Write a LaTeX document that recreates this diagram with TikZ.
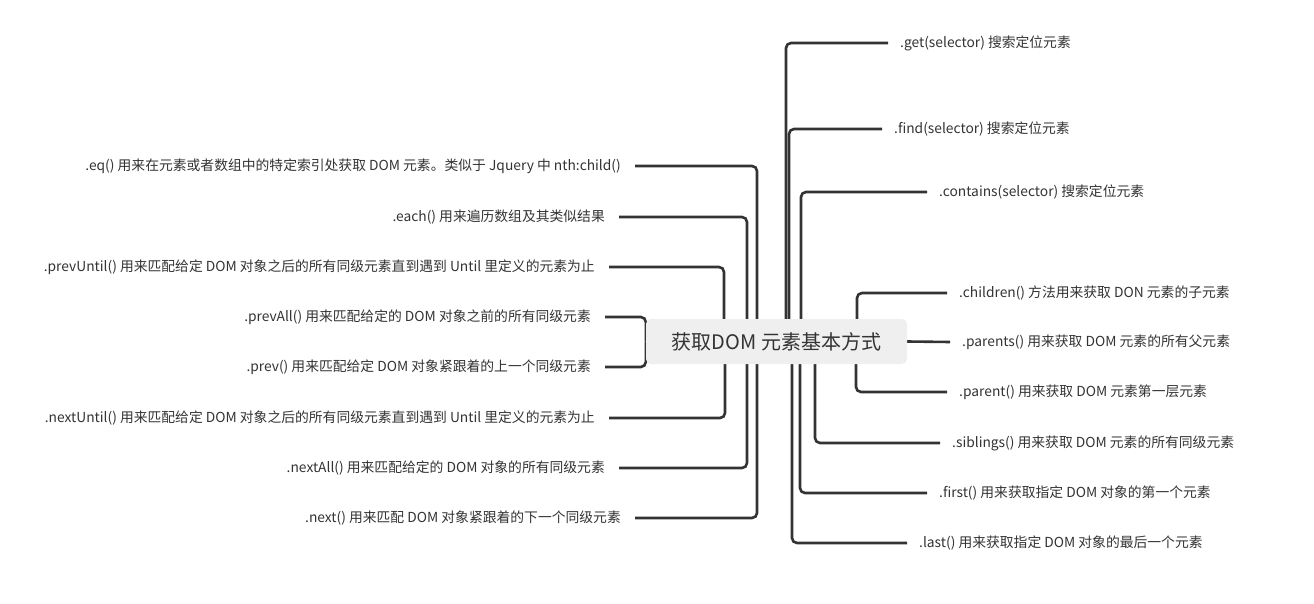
\documentclass[tikz,border=0pt]{standalone}
\usepackage{fontspec}
\setmainfont{Noto Sans CJK SC}
\usetikzlibrary{backgrounds}
\definecolor{ink}{HTML}{333333}
\definecolor{hubfill}{HTML}{EFEFEF}
\tikzset{
  conn/.style={draw=ink, line width=2.6pt, rounded corners=5pt},
  lft/.style={anchor=east, inner xsep=14pt, inner ysep=0pt, text=ink, font=\fontsize{13.8}{16}\selectfont},
  rgt/.style={anchor=west, inner xsep=12pt, inner ysep=0pt, text=ink, font=\fontsize{13.8}{16}\selectfont},
  hubnode/.style={fill=hubfill, rounded corners=5pt, minimum width=261pt, minimum height=45pt, inner sep=0pt, text=ink, font=\fontsize{20}{22}\selectfont}
}
\begin{document}
\begin{tikzpicture}[x=1pt,y=-1pt]
\useasboundingbox (0,0) rectangle (1314,604);
\node[hubnode] (hub) at (776.5,341.5) {获取DOM 元素基本方式};
% left
\node[lft] (eq) at (635,166) {.eq() 用来在元素或者数组中的特定索引处获取 DOM 元素。类似于 Jquery 中 nth:child()};
\node[lft] (each) at (619,217) {.each() 用来遍历数组及其类似结果};
\node[lft] (prevUntil) at (609,267) {.prevUntil() 用来匹配给定 DOM 对象之后的所有同级元素直到遇到 Until 里定义的元素为止};
\node[lft] (prevAll) at (605,317) {.prevAll() 用来匹配给定的 DOM 对象之前的所有同级元素};
\node[lft] (prev) at (605,367) {.prev() 用来匹配给定 DOM 对象紧跟着的上一个同级元素};
\node[lft] (nextUntil) at (609,418) {.nextUntil() 用来匹配给定 DOM 对象之后的所有同级元素直到遇到 Until 里定义的元素为止};
\node[lft] (nextAll) at (619,468) {.nextAll() 用来匹配给定的 DOM 对象的所有同级元素};
\node[lft] (next) at (635,518) {.next() 用来匹配 DOM 对象紧跟着的下一个同级元素};
% right
\node[rgt] (get) at (888,43) {.get(selector) 搜索定位元素};
\node[rgt] (find) at (882,129) {.find(selector) 搜索定位元素};
\node[rgt] (contains) at (927,192) {.contains(selector) 搜索定位元素};
\node[rgt] (children) at (947,293) {.children() 方法用来获取 DON 元素的子元素};
\node[rgt] (parents) at (950,342) {.parents() 用来获取 DOM 元素的所有父元素};
\node[rgt] (parent) at (947,392) {.parent() 用来获取 DOM 元素第一层元素};
\node[rgt] (siblings) at (940,443) {.siblings() 用来获取 DOM 元素的所有同级元素};
\node[rgt] (first) at (927,493) {.first() 用来获取指定 DOM 对象的第一个元素};
\node[rgt] (last) at (907,543) {.last() 用来获取指定 DOM 对象的最后一个元素};
\begin{scope}[on background layer]
\draw[conn] ([xshift=-19.5pt]hub.center) |- (eq.east);
\draw[conn] ([xshift=-29.5pt]hub.center) |- (each.east);
\draw[conn] ([xshift=-52.5pt]hub.center) |- (prevUntil.east);
\draw[conn] (hub.west) |- (prevAll.east);
\draw[conn] (hub.west) |- (prev.east);
\draw[conn] ([xshift=-51.5pt]hub.center) |- (nextUntil.east);
\draw[conn] ([xshift=-29.5pt]hub.center) |- (nextAll.east);
\draw[conn] ([xshift=-19.5pt]hub.center) |- (next.east);
\draw[conn] ([xshift=9.5pt]hub.center) |- (get.west);
\draw[conn] ([xshift=12.5pt]hub.center) |- (find.west);
\draw[conn] ([xshift=24.5pt]hub.center) |- (contains.west);
\draw[conn] ([xshift=80.5pt]hub.center) |- (children.west);
\draw[conn] (hub.east) -- (parents.west);
\draw[conn] ([xshift=79.5pt]hub.center) |- (parent.west);
\draw[conn] ([xshift=38.5pt]hub.center) |- (siblings.west);
\draw[conn] ([xshift=23.5pt]hub.center) |- (first.west);
\draw[conn] ([xshift=15.5pt]hub.center) |- (last.west);
\end{scope}
\end{tikzpicture}
\end{document}
